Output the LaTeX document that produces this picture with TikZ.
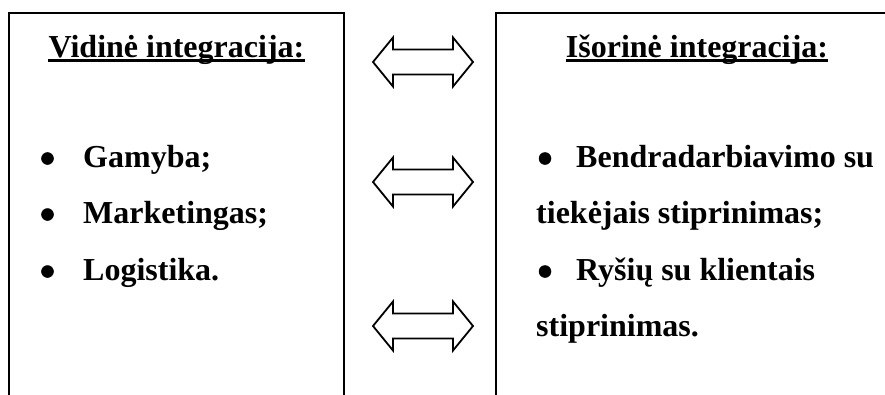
\documentclass[tikz,border=0pt]{standalone}
\usepackage{fontspec}
\setmainfont{Liberation Serif}
\begin{document}
\begin{tikzpicture}[x=1pt,y=-1pt,
  boxline/.style={line width=2pt,line cap=rect},
  txt/.style={inner sep=0pt,font=\fontsize{32}{38}\selectfont\bfseries,anchor=base west},
  ttl/.style={inner sep=0pt,font=\fontsize{32}{38}\selectfont\bfseries,anchor=base},
  bul/.style={circle,fill=black,draw=black,line width=0.5pt,inner sep=0pt,minimum size=12pt},
  ul/.style={line width=2.6pt},
  barrow/.style={line width=1.8pt,line join=miter,fill=white}]
\useasboundingbox (0,0) rectangle (885,394);
% boxes (open at bottom / right)
\coordinate (lbl) at (9,394);
\coordinate (ltl) at (9,13);
\coordinate (ltr) at (344,13);
\coordinate (lbr) at (344,394);
\draw[boxline] (lbl) -- (ltl) -- (ltr) -- (lbr);
\coordinate (rbl) at (496,394);
\coordinate (rtl) at (496,13);
\coordinate (rtr) at (886,13);
\draw[boxline] (rbl) -- (rtl) -- (rtr);
% titles
\node[ttl] (t1) at (176.5,57) {Vidinė integracija:};
\node[ttl] (t2) at (697,57) {Išorinė integracija:};
\draw[ul] ([yshift=-3.5pt]t1.base west) -- ([yshift=-3.5pt]t1.base east);
\draw[ul] ([yshift=-3.5pt]t2.base west) -- ([yshift=-3.5pt]t2.base east);
% left list
\node[bul] (lb1) at (47.5,158.5) {};
\node[txt] (l1) at (83,167) {Gamyba;};
\node[bul] (lb2) at (47.5,214.5) {};
\node[txt] (l2) at (83,223) {Marketingas;};
\node[bul] (lb3) at (47.5,271.5) {};
\node[txt] (l3) at (83,280) {Logistika.};
% right list
\node[bul] (rb1) at (545,158.5) {};
\node[txt] (r1) at (576,167) {Bendradarbiavimo su};
\node[txt] (r2) at (536,223) {tiekėjais stiprinimas;};
\node[bul] (rb2) at (545,271.5) {};
\node[txt] (r3) at (576,280) {Ryšių su klientais};
\node[txt] (r4) at (536,336) {stiprinimas.};
% double block arrows
\foreach \cy in {62,182,326}{
  \draw[barrow] (373,\cy) -- (393,\cy-24.5) -- (393,\cy-12.5) -- (453,\cy-12.5)
    -- (453,\cy-24.5) -- (473,\cy) -- (453,\cy+24.5) -- (453,\cy+12.5)
    -- (393,\cy+12.5) -- (393,\cy+24.5) -- cycle;
}
\end{tikzpicture}
\end{document}
